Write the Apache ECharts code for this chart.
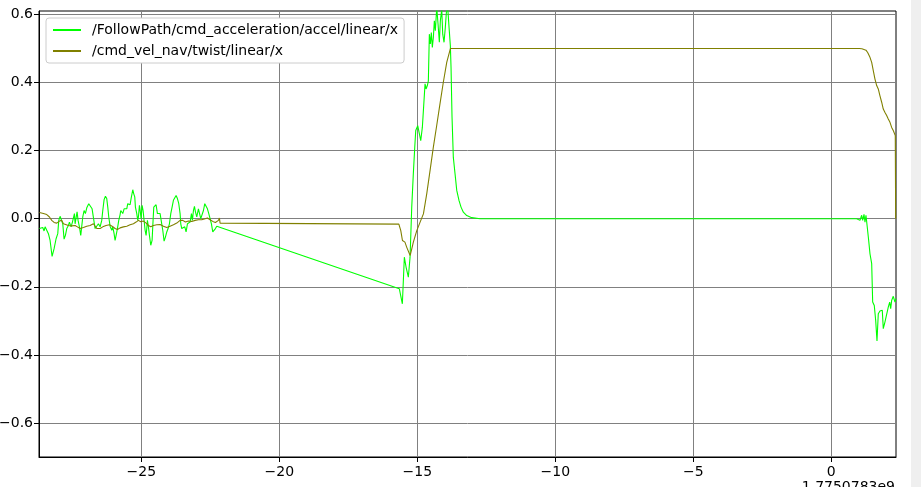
<!DOCTYPE html>
<html>
<head>
<meta charset="utf-8">
<script src="https://cdn.jsdelivr.net/npm/echarts@6/dist/echarts.min.js"></script>
<style>
html,body{margin:0;padding:0;background:#fff;}
#chart{width:921px;height:487px;}
</style>
</head>
<body>
<div id="chart"></div>
<script>
// ---- data (time offset seconds, value) ----
const seriesNames = ['/FollowPath/cmd_acceleration/accel/linear/x', '/cmd_vel_nav/twist/linear/x'];
const xTicks = [-25, -20, -15, -10, -5, 0];
const yTicks = [-0.6, -0.4, -0.2, 0.0, 0.2, 0.4, 0.6];
const offsetText = '1.7750783e9';

const accelData = [
  [-28.695,-0.029],[-28.634,-0.034],[-28.574,-0.026],[-28.526,-0.036],[-28.489,-0.024],[-28.429,-0.026],
  [-28.369,-0.044],[-28.308,-0.064],[-28.236,-0.111],[-28.163,-0.088],[-28.091,-0.059],[-28.030,-0.044],
  [-27.994,-0.005],[-27.946,0.007],[-27.910,0.009],[-27.849,-0.015],[-27.801,-0.060],[-27.753,-0.049],
  [-27.704,-0.029],[-27.644,-0.020],[-27.608,-0.010],[-27.547,-0.024],[-27.499,-0.010],[-27.426,0.015],
  [-27.402,-0.015],[-27.330,0.020],[-27.294,-0.005],[-27.245,-0.024],[-27.197,-0.049],[-27.124,0.005],
  [-27.076,0.024],[-27.028,0.015],[-26.979,0.032],[-26.907,0.044],[-26.835,0.047],[-26.786,0.029],
  [-26.738,0.024],[-26.677,-0.029],[-26.617,-0.029],[-26.557,-0.015],[-26.496,-0.024],[-26.436,-0.005],
  [-26.399,0.024],[-26.351,0.056],[-26.303,0.066],[-26.255,0.059],[-26.218,0.034],[-26.182,0.005],
  [-26.134,-0.022],[-26.073,-0.034],[-26.037,-0.024],[-25.989,-0.044],[-25.953,-0.064],[-25.916,-0.049],
  [-25.868,-0.029],[-25.820,-0.005],[-25.771,0.012],[-25.747,0.024],[-25.675,0.015],[-25.626,0.029],
  [-25.530,0.029],[-25.494,0.044],[-25.409,0.041],[-25.373,0.059],[-25.312,0.085],[-25.276,0.073],
  [-25.240,0.064],[-25.216,0.034],[-25.167,0.015],[-25.131,-0.005],[-25.107,0.005],[-25.071,0.039],
  [-25.047,0.026],[-25.010,0.000],[-24.974,0.039],[-24.938,0.024],[-24.902,-0.005],[-24.865,-0.034],
  [-24.829,-0.049],[-24.805,-0.029],[-24.781,-0.005],[-24.745,-0.024],[-24.708,-0.049],[-24.660,-0.078],
  [-24.612,-0.064],[-24.588,-0.024],[-24.551,0.034],[-24.467,0.041],[-24.419,0.015],[-24.370,0.020],
  [-24.322,0.015],[-24.273,-0.010],[-24.225,-0.034],[-24.177,-0.066],[-24.129,-0.054],[-24.080,-0.039],
  [-24.032,-0.029],[-23.984,-0.015],[-23.935,0.015],[-23.887,0.034],[-23.839,0.054],[-23.742,0.068],
  [-23.694,0.059],[-23.645,0.044],[-23.597,0.015],[-23.573,-0.015],[-23.537,-0.029],[-23.476,-0.034],
  [-23.428,-0.024],[-23.380,-0.039],[-23.331,-0.015],[-23.283,-0.020],[-23.235,-0.010],[-23.186,0.015],
  [-23.150,-0.005],[-23.114,0.024],[-23.077,0.036],[-23.041,0.020],[-22.993,0.005],[-22.933,0.029],
  [-22.896,0.034],[-22.848,0.000],[-22.800,0.005],[-22.751,0.024],[-22.703,0.044],[-22.655,0.049],
  [-22.607,0.029],[-22.558,0.015],[-22.510,0.000],[-22.462,-0.015],[-22.413,-0.039],[-22.365,-0.039],
  [-22.317,-0.029],[-22.268,-0.022],[-22.208,-0.020],
  [-15.652,-0.206],[-15.590,-0.210],[-15.543,-0.250],[-15.471,-0.113],[-15.409,-0.142],[-15.326,-0.172],
  [-15.264,-0.113],[-15.203,0.034],[-15.145,0.133],[-15.094,0.210],[-15.058,0.259],[-14.986,0.273],
  [-14.938,0.254],[-14.877,0.229],[-14.819,0.268],[-14.757,0.268],[-14.721,0.396],[-14.685,0.381],
  [-14.638,0.391],[-14.601,0.405],[-14.565,0.542],[-14.529,0.513],[-14.493,0.547],[-14.457,0.503],
  [-14.420,0.532],[-14.384,0.581],[-14.348,0.552],[-14.297,0.620],[-14.250,0.572],[-14.203,0.518],
  [-14.167,0.581],[-14.116,0.615],[-14.080,0.542],[-14.033,0.518],[-13.986,0.562],[-13.949,0.605],
  [-13.899,0.620],[-13.851,0.562],[-13.804,0.508],[-13.779,0.444],[-13.743,0.298],[-13.696,0.180],
  [-13.634,0.132],[-13.572,0.083],[-13.489,0.053],[-13.417,0.034],[-13.333,0.019],[-13.210,0.009],
  [-13.029,0.003],[-12.728,0.000],
  [0.920,0.000],[0.978,0.005],[1.040,-0.005],[1.101,0.010],[1.138,-0.005],[1.185,0.013],[1.221,-0.010],
  [1.257,0.010],[1.304,-0.025],[1.355,-0.064],[1.402,-0.103],[1.464,-0.132],[1.500,-0.245],[1.558,-0.255],
  [1.609,-0.299],[1.656,-0.359],[1.703,-0.279],[1.764,-0.271],[1.848,-0.269],[1.884,-0.323],[1.946,-0.303],
  [2.007,-0.300],[2.065,-0.260],[2.116,-0.245],[2.152,-0.264],[2.188,-0.240],[2.246,-0.228],[2.308,-0.245],
  [2.344,-0.235]
];

const velData = [
  [-28.695,0.018],[-28.550,0.015],[-28.429,0.012],[-28.332,0.005],[-28.248,-0.005],[-28.163,-0.011],
  [-28.067,-0.013],[-27.970,-0.007],[-27.885,-0.005],[-27.825,-0.015],[-27.765,-0.020],[-27.644,-0.020],
  [-27.523,-0.021],[-27.402,-0.020],[-27.318,-0.024],[-27.221,-0.029],[-27.100,-0.026],[-26.979,-0.022],
  [-26.859,-0.020],[-26.738,-0.015],[-26.617,-0.029],[-26.496,-0.029],[-26.399,-0.024],[-26.279,-0.020],
  [-26.158,-0.018],[-26.061,-0.022],[-25.953,-0.029],[-25.868,-0.032],[-25.771,-0.027],[-25.651,-0.024],
  [-25.530,-0.022],[-25.409,-0.018],[-25.288,-0.015],[-25.192,-0.010],[-25.107,-0.005],[-25.022,-0.009],
  [-24.926,-0.007],[-24.829,-0.013],[-24.745,-0.020],[-24.660,-0.024],[-24.563,-0.020],[-24.443,-0.018],
  [-24.322,-0.017],[-24.201,-0.022],[-24.080,-0.026],[-23.960,-0.022],[-23.839,-0.018],[-23.718,-0.013],
  [-23.597,-0.005],[-23.500,-0.005],[-23.404,-0.010],[-23.295,-0.007],[-23.174,-0.008],[-23.054,-0.005],
  [-22.933,-0.003],[-22.812,-0.003],[-22.691,0.000],[-22.606,0.002],[-22.510,-0.003],[-22.413,-0.008],
  [-22.317,-0.011],[-22.208,-0.005],[-22.172,0.002],[-22.148,-0.013],[-22.100,-0.016],
  [-15.670,-0.016],[-15.600,-0.035],[-15.540,-0.064],[-15.450,-0.069],[-15.380,-0.085],[-15.260,-0.108],
  [-15.200,-0.088],[-15.145,-0.069],[-15.020,-0.035],[-14.900,-0.010],[-14.780,0.014],[-14.660,0.073],
  [-14.540,0.141],[-14.420,0.210],[-14.300,0.273],[-14.180,0.337],[-14.060,0.400],[-13.935,0.459],
  [-13.800,0.500],
  [1.010,0.500],[1.110,0.499],[1.257,0.495],[1.318,0.488],[1.402,0.474],[1.464,0.459],[1.522,0.435],
  [1.583,0.410],[1.645,0.391],[1.703,0.381],[1.764,0.361],[1.826,0.342],[1.884,0.322],[1.946,0.312],
  [2.007,0.303],[2.065,0.293],[2.127,0.283],[2.188,0.268],[2.246,0.259],[2.319,0.244],[2.333,0.000]
];

const FONT = 'DejaVu Sans';
const FS = 14;
const minus = v => String(v).replace('-', '\u2212');

const chart = echarts.init(document.getElementById('chart'), null, {renderer: 'canvas'});
chart.setOption({
  animation: false,
  backgroundColor: '#ffffff',
  grid: {left: 39, right: 25, top: 11, bottom: 30, outerBoundsMode: 'none', containLabel: false,
    show: true, borderColor: '#000', borderWidth: 1, backgroundColor: 'transparent'},
  legend: {
    orient: 'vertical', left: 46, top: 18,
    padding: [5, 6, 5, 6], itemGap: 7, itemWidth: 28, itemHeight: 14,
    backgroundColor: '#fff', borderColor: '#cccccc', borderWidth: 1, borderRadius: 3,
    itemStyle: {opacity: 0},
    textStyle: {fontFamily: FONT, fontSize: FS, color: '#000', padding: [0, 0, 0, 6]},
    data: seriesNames
  },
  xAxis: {
    type: 'value', min: -28.71, max: 2.345,
    axisLine: {show: true, onZero: false, lineStyle: {color: '#000', width: 1}},
    axisTick: {show: true, length: 5, lineStyle: {color: '#000'}, customValues: xTicks},
    axisLabel: {customValues: xTicks, margin: 8, fontFamily: FONT, fontSize: FS, color: '#000',
      formatter: v => minus(Math.round(v))},
    splitLine: {show: true, lineStyle: {color: '#808080', width: 1}}
  },
  yAxis: {
    type: 'value', min: -0.700, max: 0.610,
    axisLine: {show: true, onZero: false, lineStyle: {color: '#000', width: 1}},
    axisTick: {show: true, length: 5, lineStyle: {color: '#000'}, customValues: yTicks},
    axisLabel: {customValues: yTicks, margin: 6, fontFamily: FONT, fontSize: FS, color: '#000',
      formatter: v => minus((Math.round(v * 10) / 10).toFixed(1))},
    splitLine: {show: true, lineStyle: {color: '#808080', width: 1}}
  },
  series: [
    {name: seriesNames[0], type: 'line', data: accelData, symbol: 'none', clip: true,
      lineStyle: {color: '#00ff00', width: 1.1}, itemStyle: {color: '#00ff00'}},
    {name: seriesNames[1], type: 'line', data: velData, symbol: 'none', clip: true,
      lineStyle: {color: '#808000', width: 1.1}, itemStyle: {color: '#808000'}}
  ],
  graphic: [
    {type: 'rect', left: 911, top: 0, shape: {width: 10, height: 487}, style: {fill: '#efefef'}, silent: true},
    {type: 'text', right: 26, top: 480, style: {text: offsetText, font: '14px "DejaVu Sans"', fill: '#000'}}
  ]
});
</script>
</body>
</html>
